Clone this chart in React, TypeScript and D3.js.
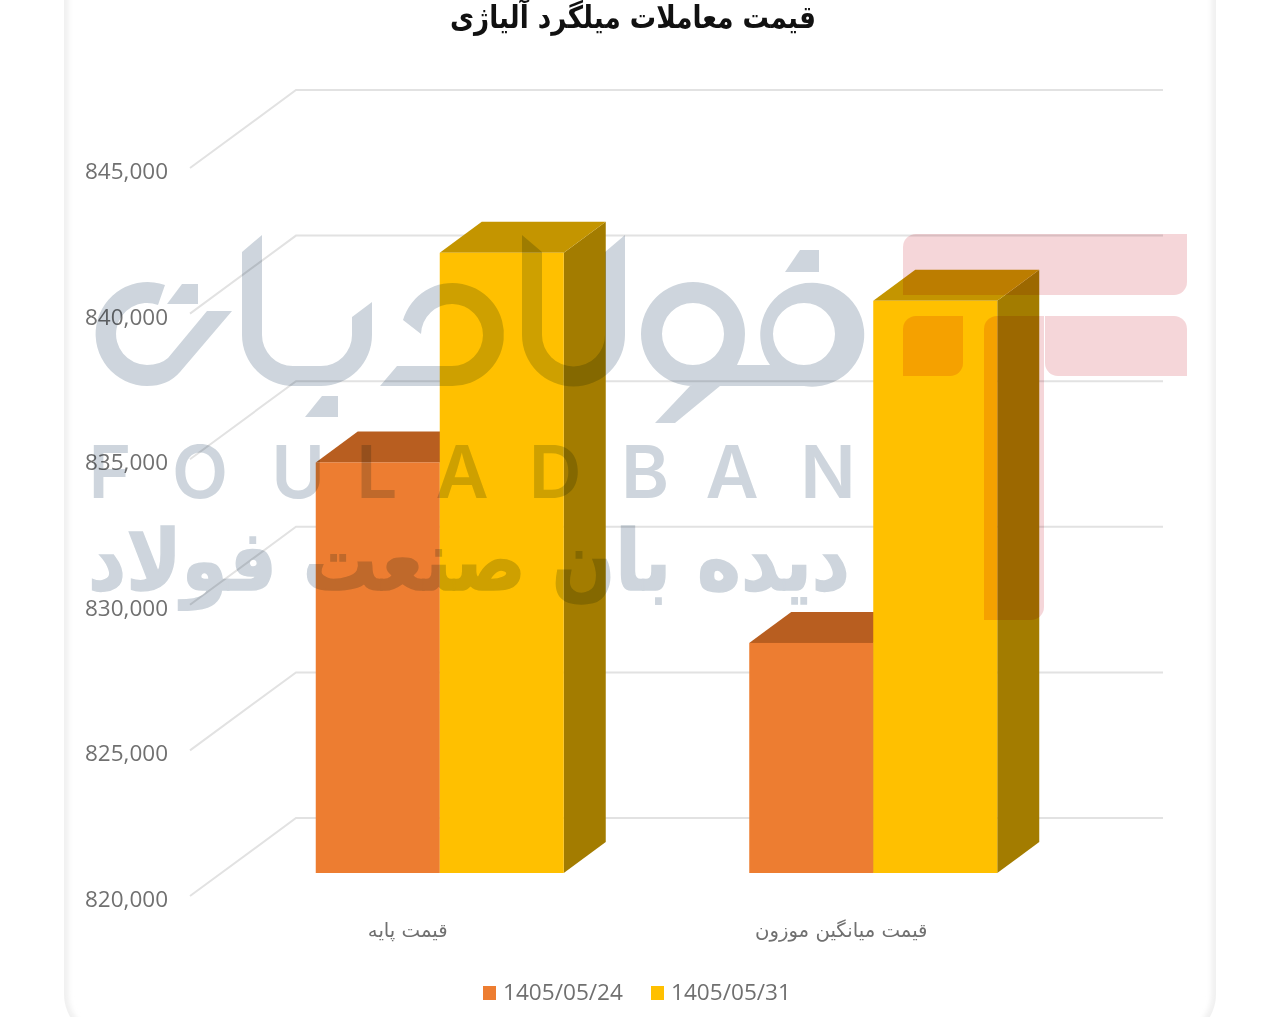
import * as d3 from 'd3'

const title = 'قیمت معاملات میلگرد آلیاژی'
const categories = ['قیمت پایه', 'قیمت میانگین موزون']
const seriesNames = ['1405/05/24', '1405/05/31']
const seriesColors = ['#ED7D31', '#FFC000']
const topColors = ['#B85E20', '#C49500']
const sideColors = ['#A0561F', '#A37C00']
const values24 = [834100, 827900]
const values31 = [841300, 839650]
const yTicks = [820000, 825000, 830000, 835000, 840000, 845000]

const watermarkLetters = ['F', 'O', 'U', 'L', 'A', 'D', 'B', 'A', 'N']
const watermarkX = [110, 200, 298, 377, 462, 555, 645, 732, 828]
const watermarkLine = 'دیده بان صنعت فولاد'

const width = 1280
const height = 1017

// 3d box offsets, wall to front edge of the floor
const floorDx = -106
const floorDy = 78
const barFrontDy = 55
const barDepthX = 42
const barDepthY = 31

const yWall = d3.scaleLinear().domain([820000, 845000]).range([818, 90])
const xFront = d3.scaleBand<string>().domain(categories).range([223, 1090])
const xSeries = d3.scaleBand<string>().domain(seriesNames).range([-124, 124])
const fmt = d3.format(',')
const poly = d3.line()

const greyLogo = '#CAD2DA'
const pinkLogo = '#F5D3D6'

function Bar({ cat, s, value }: { cat: string; s: number; value: number }) {
  const x0 = xFront(cat)! + xFront.bandwidth() / 2 + xSeries(seriesNames[s])!
  const x1 = x0 + xSeries.bandwidth()
  const yTop = yWall(value) + barFrontDy
  const yBase = yWall(yTicks[0]) + barFrontDy
  const top: [number, number][] = [[x0, yTop], [x1, yTop], [x1 + barDepthX, yTop - barDepthY], [x0 + barDepthX, yTop - barDepthY]]
  const side: [number, number][] = [[x1, yTop], [x1 + barDepthX, yTop - barDepthY], [x1 + barDepthX, yBase - barDepthY], [x1, yBase]]
  return (
    <g>
      <path d={poly(side)!} fill={sideColors[s]} />
      <path d={poly(top)!} fill={topColors[s]} />
      <rect x={x0} y={yTop} width={x1 - x0} height={yBase - yTop} fill={seriesColors[s]} />
    </g>
  )
}

function Watermark() {
  return (
    <g style={{ mixBlendMode: 'multiply' }} opacity={0.92}>
      {/* red mark */}
      <g fill={pinkLogo}>
        <path d="M916,234H1187V282A13,13 0 0 1 1174,295H903V247A13,13 0 0 1 916,234Z" />
        <path d="M1045,316H1174A13,13 0 0 1 1187,329V376H1058A13,13 0 0 1 1045,363Z" />
        <path d="M916,316H963V363A13,13 0 0 1 950,376H903V329A13,13 0 0 1 916,316Z" />
        <path d="M997,316H1044V607A13,13 0 0 1 1031,620H984V329A13,13 0 0 1 997,316Z" />
      </g>
      {/* word mark, stroked letters */}
      <g fill={greyLogo}>
        <path d="M165,285A52,52 0 1 0 147,386Q168,386 180,372L232,311H207L168,358Q160,365 147,365A31,31 0 1 1 158,305Z" />
        <path d="M198,284V304H167L182,284Z" />
        <path d="M262,235L242,252V335A51,51 0 0 0 293,386H321A51,51 0 0 0 372,335V302L352,317V335A31,31 0 0 1 321,366H293A31,31 0 0 1 262,335Z" />
        <path d="M338,396V417H305L322,396Z" />
        <path d="M522,235L542,252V335A31.5,31.5 0 0 0 605,335V252L625,235V335A51.5,51.5 0 0 1 522,335Z" />
        <path d="M380,386L397,366H452A31,31 0 1 0 421,334L403,320A51.5,51.5 0 1 1 452,386Z" />
        <path d="M819,250V272H785L800,250Z" />
        <path d="M690,386H720L675,423H655Z" />
        <path fillRule="evenodd" d="M693,282A52,52 0 0 1 745,334Q745,350 737,365H770A52,52 0 1 1 804,386H693A52,52 0 0 1 693,282ZM693,303A31,31 0 1 0 693,365A31,31 0 1 0 693,303ZM804,303A31,31 0 1 0 804,365A31,31 0 1 0 804,303Z" />
      </g>
      <g fill={greyLogo} fontFamily="Inter" fontSize={73} fontWeight={600} textAnchor="middle">
        {watermarkLetters.map((l, i) => (
          <text key={i} x={watermarkX[i]} y={498}>{l}</text>
        ))}
      </g>
      <text x={88} y={590} fill={greyLogo} stroke={greyLogo} strokeWidth={1.5} fontFamily="DejaVu Sans" fontWeight={700} fontSize={84} direction="rtl" unicodeBidi="embed" textAnchor="end" textLength={762} lengthAdjust="spacingAndGlyphs">
        {watermarkLine}
      </text>
    </g>
  )
}

export default function App() {
  const wallLeft = 296
  const wallRight = 1163
  return (
    <svg width={width} height={height} style={{ position: 'absolute', left: 0, top: 0, background: '#fff' }}>
      <defs>
        <clipPath id="card">
          <rect x={64} y={-60} width={1152} height={1100} rx={46} />
        </clipPath>
        <filter id="soft" x="-5%" y="-5%" width="110%" height="110%">
          <feGaussianBlur stdDeviation={2.5} />
        </filter>
      </defs>

      {/* card edge */}
      <g clipPath="url(#card)">
        <rect x={64} y={-60} width={1152} height={1100} rx={46} fill="none" stroke="#F0F0F0" strokeWidth={9} filter="url(#soft)" />
      </g>

      <text x={633} y={28} fontFamily="DejaVu Sans" fontWeight={700} fontSize={31} fill="#111" textAnchor="middle" direction="rtl" textLength={366} lengthAdjust="spacingAndGlyphs">
        {title}
      </text>

      {/* walls */}
      <g fill="none" stroke="#E2E2E2" strokeWidth={2}>
        {yTicks.map(t => (
          <path key={t} d={poly([[wallLeft + floorDx, yWall(t) + floorDy], [wallLeft, yWall(t)], [wallRight, yWall(t)]])!} />
        ))}
      </g>

      <g fontFamily="Open Sans" fontSize={22.5} fill="#707070" textAnchor="end">
        {yTicks.map(t => (
          <text key={t} x={168} y={yWall(t) + floorDy + 11}>{fmt(t)}</text>
        ))}
      </g>

      {categories.map((c, i) => (
        <g key={c}>
          <Bar cat={c} s={0} value={values24[i]} />
          <Bar cat={c} s={1} value={values31[i]} />
          <text x={xFront(c)! + xFront.bandwidth() / 2 - 32} y={937} fontFamily="DejaVu Sans" fontSize={19.7} fill="#707070" textAnchor="middle" direction="rtl">
            {c}
          </text>
        </g>
      ))}

      {/* legend */}
      <g fontFamily="Open Sans" fontSize={22.6} fill="#707070">
        {seriesNames.map((n, i) => (
          <g key={n}>
            <rect x={483 + i * 168} y={986} width={13} height={14} fill={seriesColors[i]} />
            <text x={503 + i * 168} y={1000}>{n}</text>
          </g>
        ))}
      </g>

      <Watermark />
    </svg>
  )
}
